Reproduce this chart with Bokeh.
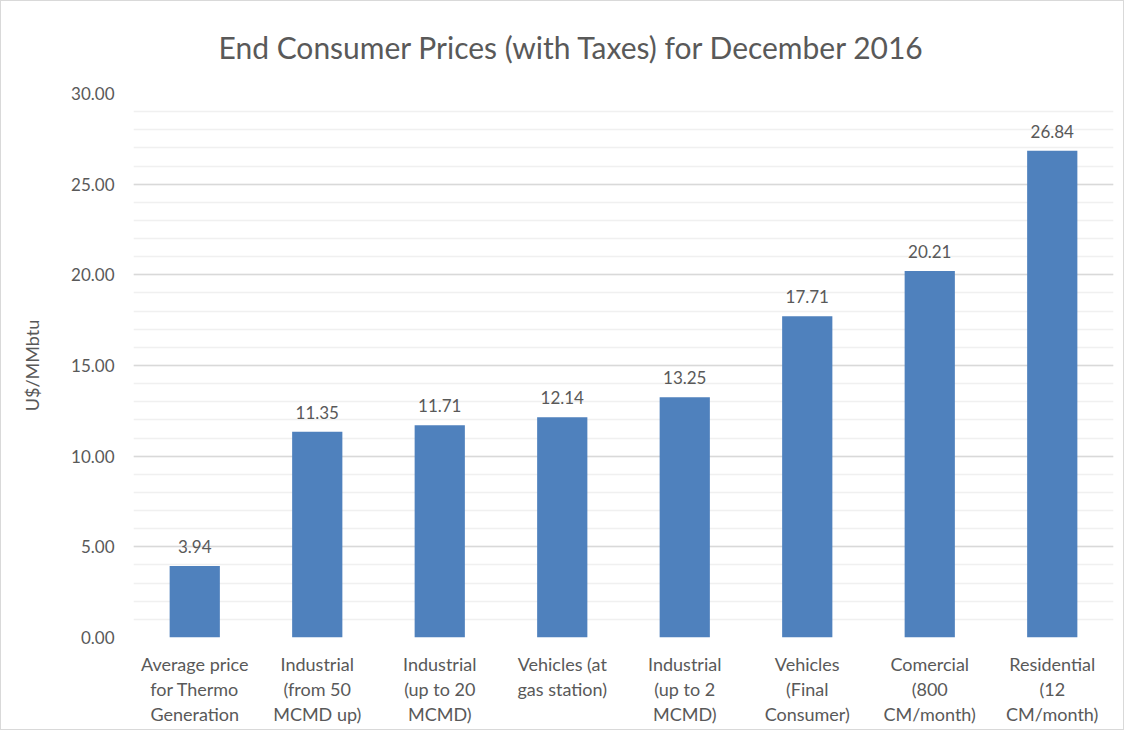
from bokeh.plotting import figure
from bokeh.models import ColumnDataSource, SingleIntervalTicker, NumeralTickFormatter, Range1d, FactorRange
from bokeh.core.properties import value
from bokeh.embed import file_html
from bokeh.resources import INLINE

categories = [
    "Average price\nfor Thermo\nGeneration",
    "Industrial\n(from 50\nMCMD up)",
    "Industrial\n(up to 20\nMCMD)",
    "Vehicles (at\ngas station)",
    "Industrial\n(up to 2\nMCMD)",
    "Vehicles\n(Final\nConsumer)",
    "Comercial\n(800\nCM/month)",
    "Residential\n(12\nCM/month)",
]
prices = [3.94, 11.35, 11.71, 12.14, 13.25, 17.71, 20.21, 26.84]
labels = ["%.2f" % v for v in prices]

FONT = "Lato"
GREY = "#595959"

src = ColumnDataSource(dict(cat=categories, val=prices, lab=labels))

p = figure(
    x_range=FactorRange(*categories),
    y_range=Range1d(0, 30),
    width=1124, height=730,
    output_backend="svg", toolbar_location=None,
    min_border_left=132, min_border_right=12, min_border_top=92, min_border_bottom=94,
    title="End Consumer Prices (with Taxes) for December 2016",
)
p.x_range.factor_padding = 0
p.x_range.range_padding = 0

p.vbar(x="cat", top="val", width=0.41, source=src, color="#4f81bd", line_color=None)
p.text(x="cat", y="val", text="lab", source=src, text_align="center", text_baseline="bottom",
       y_offset=-13, text_font=value(FONT), text_font_size="17px", text_color=GREY)

p.title.text_font = FONT
p.title.text_font_size = "30px"
p.title.text_font_style = "normal"
p.title.text_color = GREY
p.title.align = "left"
p.title.offset = 85
p.title.standoff = 54
p.title.vertical_align = "top"

p.yaxis.ticker = SingleIntervalTicker(interval=5, num_minor_ticks=5)
p.yaxis.formatter = NumeralTickFormatter(format="0.00")
p.yaxis.axis_label = "U$/MMbtu"
p.yaxis.axis_label_text_font = FONT
p.yaxis.axis_label_text_font_size = "18px"
p.yaxis.axis_label_text_font_style = "normal"
p.yaxis.axis_label_text_color = GREY
p.yaxis.axis_label_standoff = 25

for ax in (p.xaxis, p.yaxis):
    ax.axis_line_color = None
    ax.major_tick_line_color = None
    ax.minor_tick_line_color = None
    ax.major_label_text_font = FONT
    ax.major_label_text_color = GREY
p.yaxis.major_label_text_font_size = "17px"
p.xaxis.major_label_text_font_size = "18px"
p.yaxis.major_label_standoff = 13
p.xaxis.major_label_standoff = 9
p.xaxis.major_label_text_line_height = 1.15

p.xgrid.grid_line_color = None
p.ygrid.grid_line_color = "#d9d9d9"
p.ygrid.grid_line_width = 1.5
p.ygrid.minor_grid_line_color = "#f0f0f0"
p.ygrid.minor_grid_line_width = 1.5

p.outline_line_color = None
p.border_fill_color = "white"
p.background_fill_color = "white"
p.styles = {"border": "1.5px solid #d9d9d9", "box-sizing": "border-box"}

open("out.html", "w").write(file_html(p, INLINE))
